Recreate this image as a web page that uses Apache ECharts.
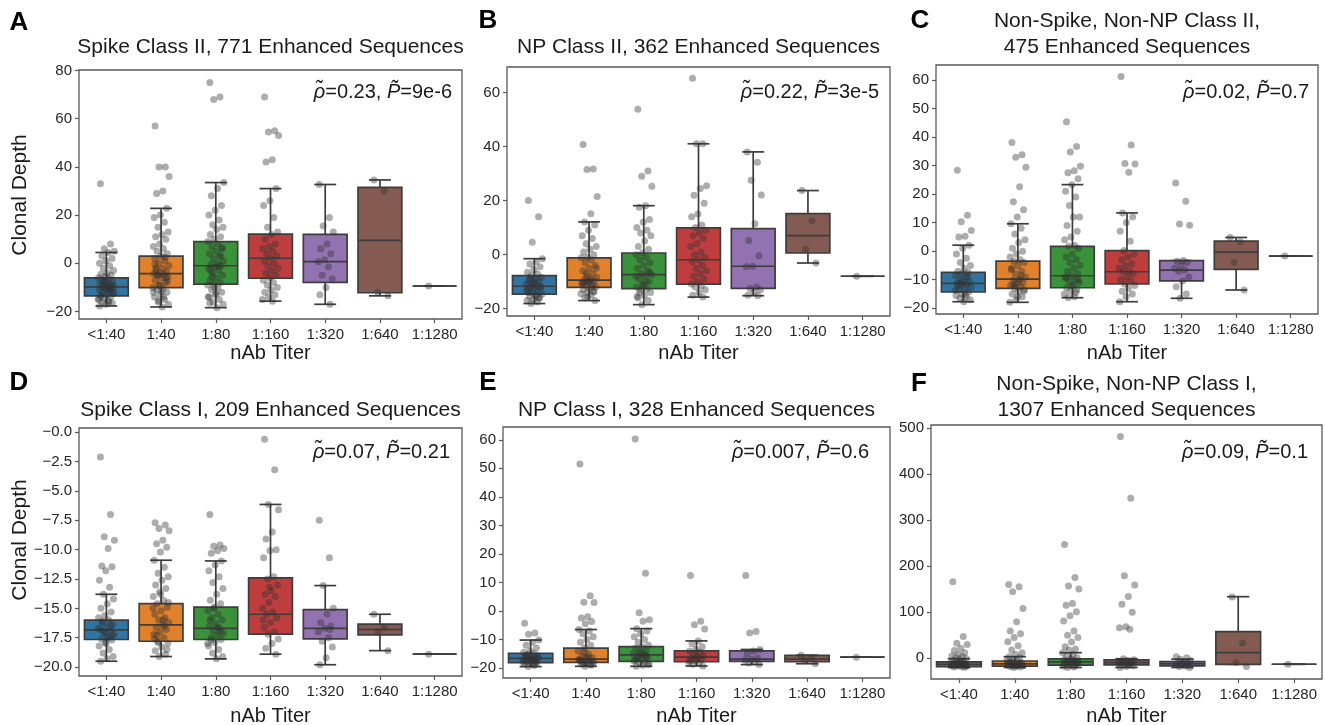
<!DOCTYPE html>
<html><head><meta charset="utf-8">
<script src="https://cdn.jsdelivr.net/npm/echarts@6/dist/echarts.min.js"></script>
<style>html,body{margin:0;padding:0;background:#fff}#c{width:1326px;height:725px}</style>
</head><body><div id="c"></div>
<script>
const categories = ['<1:40','1:40','1:80','1:160','1:320','1:640','1:1280'];
const titles = ['Spike Class II, 771 Enhanced Sequences','NP Class II, 362 Enhanced Sequences','Non-Spike, Non-NP Class II,\n475 Enhanced Sequences','Spike Class I, 209 Enhanced Sequences','NP Class I, 328 Enhanced Sequences','Non-Spike, Non-NP Class I,\n1307 Enhanced Sequences'];
const letters = ['A','B','C','D','E','F'];
const rhoVals = ['0.23','0.22','0.02','0.07','0.007','0.09'];
const pVals = ['9e-6','3e-5','0.7','0.21','0.6','0.1'];

// box stats: [lowWhisker, Q1, median, Q3, highWhisker]
const boxA = [[-17.7,-13.5,-9.8,-6.0,4.5],[-18.1,-10.1,-4.3,3.0,22.8],[-18.4,-8.6,-1.0,9.0,33.5],[-15.7,-6.2,2.1,12.1,31.0],[-17.0,-7.9,0.7,12.0,32.7],[-13.5,-12.2,9.5,31.5,34.6],[-9.4,-9.4,-9.4,-9.4,-9.4]];
const boxB = [[-18.1,-14.6,-11.7,-7.8,-1.5],[-17.0,-12.1,-9.4,-1.2,12.1],[-18.5,-12.6,-7.4,0.6,18.1],[-15.7,-10.9,-1.9,9.9,41.0],[-15.2,-12.5,-4.3,9.6,38.0],[-3.1,0.6,7.0,15.2,23.7],[-8.0,-8.0,-8.0,-8.0,-8.0]];
const boxC = [[-17.7,-14.3,-11.3,-7.4,2.1],[-17.9,-13.0,-9.8,-3.5,9.6],[-16.3,-12.8,-8.6,1.7,23.3],[-17.7,-11.5,-7.2,0.2,13.4],[-16.5,-10.4,-6.6,-3.3,-3.3],[-13.6,-6.4,-0.35,3.5,4.8],[-1.7,-1.7,-1.7,-1.7,-1.7]];
const boxD = [[-19.5,-17.65,-16.83,-16.0,-13.8],[-19.1,-17.8,-16.4,-14.6,-10.9],[-19.3,-17.65,-16.7,-14.9,-10.96],[-18.9,-17.2,-15.5,-12.4,-6.15],[-19.8,-17.6,-16.7,-15.1,-13.06],[-18.6,-17.25,-16.8,-16.35,-15.5],[-18.9,-18.9,-18.9,-18.9,-18.9]];
const boxE = [[-19.5,-18.1,-16.6,-14.9,-10.2],[-19.4,-18.0,-16.9,-13.0,-6.5],[-19.4,-17.7,-15.4,-12.5,-6.2],[-19.3,-17.8,-16.2,-14.0,-10.5],[-18.8,-17.7,-16.9,-14.0,-13.5],[-18.5,-17.8,-16.9,-15.6,-15.5],[-16.2,-16.2,-16.2,-16.2,-16.2]];
const boxF = [[-20,-18,-13,-8,-1],[-20,-17,-12,-6,3.5],[-20,-15,-8,-1.5,12],[-20,-14.5,-9.5,-3.7,-1],[-20,-16.7,-12.4,-7.3,-2],[-13.1,-13.1,12.2,57.8,133.6],[-13,-13,-13,-13,-13]];

// individual points per category
const ptsA = [
 [33,8,6,5,4.5,3,2,1,0,-1,-2,-3,-4,-4.5,-5,-5.5,-6,-6.5,-7,-7.5,-8,-8.5,-9,-9.3,-9.6,-9.8,-10,-10.3,-10.6,-11,-11.5,-12,-12.5,-13,-13.5,-14,-14.5,-15,-15.5,-16,-16.5,-17,-17.7,-11,-8,-12,-10.8,-13.2,-9.1,-7.2,-14.8,-16.2],
 [57,40,40,36,30,29,22.8,20,19,17,15,13,12,11,10,8,7,6,5,4,3,2,1,0,-1,-2,-3,-3.5,-4,-4.3,-4.6,-5,-5.5,-6,-7,-8,-9,-10,-10.5,-11,-12,-13,-14,-15,-16,-17,-18.1,-2,-6,-9,-12,-14,-4.8,-7.5,-11.5,-0.5,2.5,-15.5],
 [75,69,68,33.5,31,28,24,22,20,18,16,15,14,12,11,10,9,8,7,6,5,4,3,2,1,0,-0.5,-1,-1.5,-2,-3,-4,-5,-6,-7,-8,-8.6,-9,-10,-11,-12,-13,-14,-15,-16,-17,-18.4,-3,3,-10,-14,-1.2,-5.5,6.5,-12.5,-16.5],
 [69,55,54.5,53,43,42,31,26,24,19,15,13,12,10,8,7,6,5,4,3,2.1,1,0,-1,-2,-3,-4,-5,-6,-7,-8,-9,-10,-11,-12,-13,-14,-15,-15.7],
 [32.7,19,15.5,13,8,6,4,1.5,0.7,-1.5,-5,-6.5,-10,-13,-17],
 [34.6,30,-12,-13.5],
 [-9.4]
];
const ptsB = [
 [20,14,4.6,-1.5,-2.5,-3.5,-4.5,-5.5,-6.5,-7.2,-7.8,-8.5,-9,-9.5,-10,-10.5,-11,-11.5,-11.7,-12,-12.5,-13,-13.5,-14,-14.6,-15,-15.5,-16,-16.5,-17,-17.5,-18.1,-12,-10,-14,-16,-11.2,-13.2,-15.2,-8.8],
 [40.7,31.7,31.5,21.5,15.1,12.1,11,9,7,6,4,3,2,1,0,-1,-1.2,-2,-3,-4,-5,-6,-7,-8,-8.5,-9,-9.4,-9.8,-10,-10.5,-11,-11.5,-12,-12.5,-13,-13.5,-14,-14.5,-15,-16,-17,-10,-11,-12,-7,-5,-9.6,-10.2,-13.8,-15.5],
 [53.8,30.9,29,25.3,18.1,17.5,13,12,10,9,8,7,5,3,2,0.6,0,-1,-2,-3,-4,-5,-6,-7,-7.4,-8,-9,-10,-11,-12,-12.6,-13,-14,-15,-16,-17,-18.5,-8,-10,-14,-6.5,-11.5,-15.5],
 [65.2,41,41,25.5,24.5,22,19,15,14,11,10,9,8,7,6,4,3,1,0,-1,-1.9,-2.5,-4,-5,-6,-7,-8,-9,-10,-10.9,-11.5,-12,-13,-14,-15,-15.7],
 [38,34.2,27.5,22.1,11.4,5.2,-0.4,-4.3,-4.5,-12,-12.5,-13,-14,-15,-15.2],
 [23.7,12.5,2,-3.1],
 [-8.0]
];
const ptsC = [
 [28.3,12.6,10.3,7.2,5.2,5,2.1,1,-1,-2.5,-4,-5,-6,-7,-7.4,-8,-8.5,-9,-10,-10.5,-11,-11.3,-11.6,-12,-12.5,-13,-13.5,-14.3,-15,-15.5,-16,-16.5,-17,-17.7,-12,-9,-10.8,-13.8,-15.2],
 [38.1,33.8,32.9,29.4,22.6,17.3,14.5,12,9.6,8,6,4,3,1,0,-1,-2,-3,-3.5,-4,-5,-6,-7,-8,-9,-9.8,-10.2,-11,-11.5,-12,-12.5,-13,-13.5,-14,-15,-16,-17,-17.9,-10,-12,-14,-16,-6.5,-8.5,-11.2],
 [45.3,36.7,34.7,29.7,28.2,27.5,25.4,23.3,21,19,16,12,12,9,7,5,4,2,1.7,1,-1,-2,-3,-4,-5,-6,-7,-8,-8.6,-9,-10,-10.5,-11,-12,-12.8,-13.5,-14,-15,-16,-16.3,-10,-12,-9.5,-14.5],
 [61.2,37.2,30.7,30.5,27.6,13.4,12,10,7,3.5,0.2,-1,-2,-3,-4.5,-5,-6,-7,-7.2,-8,-9,-10,-10.5,-11.5,-12,-13,-14,-15,-16,-17.7],
 [23.9,17.5,9.5,9.1,-3.3,-3.5,-4,-5,-6,-6.6,-7,-9,-10.4,-12.5,-15,-16.5],
 [4.8,3.3,-4,-13.6],
 [-1.7]
];
const ptsD = [
 [-2.1,-7,-8.9,-9.2,-9.9,-11.4,-11.45,-11.8,-12.6,-13.2,-13.8,-14.2,-14.6,-15,-15.3,-15.6,-15.8,-16,-16.2,-16.4,-16.6,-16.8,-16.9,-17,-17.2,-17.4,-17.6,-17.7,-17.9,-18.2,-18.5,-18.8,-19.1,-19.3,-19.5,-16.5,-17.1,-16.7,-17.5,-16.1,-17.3,-18],
 [-7.7,-7.9,-8.2,-8.4,-9.2,-9.5,-9.8,-10.2,-10.9,-11.5,-12,-12.3,-12.6,-13,-13.3,-13.6,-14,-14.3,-14.6,-14.9,-15.2,-15.5,-15.8,-16,-16.2,-16.4,-16.6,-16.8,-17,-17.2,-17.5,-17.8,-18,-18.3,-18.6,-18.9,-19.1,-15,-16,-17.3,-18.5,-13.8,-17.6,-16.5,-17.9,-14.5],
 [-7,-9.6,-9.7,-9.9,-10.1,-10.3,-10.96,-11.3,-11.8,-12.3,-12.8,-13.3,-13.8,-14.3,-14.6,-14.9,-15.2,-15.5,-15.8,-16,-16.3,-16.5,-16.7,-16.9,-17.1,-17.3,-17.5,-17.65,-17.9,-18.2,-18.5,-18.8,-19.1,-19.3,-16,-17,-15,-18,-16.6,-17.7],
 [-0.6,-3.2,-6.15,-6.6,-8.5,-9.1,-10,-10.1,-10.7,-12.3,-12.5,-13,-13.5,-13.8,-14,-14.5,-15,-15.3,-15.5,-15.8,-16.2,-16.6,-17,-17.2,-17.6,-18,-18.4,-18.9,-13.2,-16],
 [-7.5,-10.7,-13.06,-15,-15.5,-16.2,-16.5,-16.7,-17,-17.5,-17.8,-18.3,-19.2,-19.8,-16.8],
 [-15.5,-16.6,-17.0,-18.6],
 [-18.9]
];
const ptsE = [
 [-4.3,-7.7,-8.2,-10.2,-11,-12,-13,-14,-14.5,-14.9,-15.3,-15.7,-16,-16.3,-16.6,-16.9,-17.2,-17.5,-17.8,-18.1,-18.4,-18.7,-19,-19.5,-16.5,-17,-15.5,-18,-16.8,-17.8,-18.9,-15.9],
 [51.5,5.3,3.1,3,-2,-2.5,-3.7,-4.5,-6.5,-7,-8,-9,-10,-11,-12,-13,-14,-15,-15.8,-16.3,-16.9,-17.2,-17.5,-17.8,-18,-18.3,-18.6,-19,-19.4,-17,-16.5,-18.2,-17.7,-16.1,-17.4,-18.8,-14.5],
 [60.3,13.2,-0.6,-3.1,-3.6,-6.2,-7,-8,-9,-10,-11,-12,-12.5,-13,-14,-14.5,-15,-15.4,-15.8,-16.3,-16.8,-17.2,-17.7,-18,-18.5,-19,-19.4,-16,-14.8,-17.5,-15.2,-16.6,-18.8],
 [12.4,-3.6,-4.8,-6.3,-10.5,-11.5,-12.5,-13.5,-14,-14.5,-15.2,-15.8,-16.2,-16.6,-17,-17.4,-17.8,-18.2,-18.7,-19.3,-16,-17.5],
 [12.4,-7.2,-7.7,-13.5,-14,-15,-16.5,-16.9,-17.2,-17.7,-18.2,-18.8],
 [-15.5,-16.5,-17.3,-18.5],
 [-16.2]
];
const ptsF = [
 [166,47,32.5,30,21.7,16.6,12,8,5,3,1,-1,-3,-5,-7,-8,-9,-10,-11,-12,-13,-14,-15,-16,-17,-18,-19,-20,-12,-15,-10.5,-13.5,-16.5],
 [160,155,144,108,79,59,53,45,36,27,18,12,8,3.5,1,-2,-4,-6,-8,-10,-12,-13,-14,-15,-16,-17,-18,-19,-20,-11,-14,-9,-12.5,-16.5],
 [247,175,157,150,119,115,101,92,81,59,50,45,35,25,20,18,12,8,4,1,-1.5,-3,-5,-7,-8,-9,-11,-13,-15,-17,-19,-20,-10,-6,-12,-16],
 [481,347,179,159,134,117,100,68.5,66,63,-1,-3,-5,-7,-9,-9.5,-11,-13,-14.5,-16,-18,-20,-12],
 [3.5,1,-2,-5,-7.3,-9,-11,-12.4,-14,-16.7,-18,-20],
 [133,33,-9,-18],
 [-13]
];

// y tick values and labels
const yTicksA = [-20,0,20,40,60,80];
const yLabelsA = ['\u221220','0','20','40','60','80'];
const yTicksB = [-20,0,20,40,60];
const yLabelsB = ['\u221220','0','20','40','60'];
const yTicksC = [-20,-10,0,10,20,30,40,50,60];
const yLabelsC = ['\u221220','\u221210','0','10','20','30','40','50','60'];
const yTicksD = [-20,-17.5,-15,-12.5,-10,-7.5,-5,-2.5,0];
const yLabelsD = ['\u221220.0','\u221217.5','\u221215.0','\u221212.5','\u221210.0','\u22127.5','\u22125.0','\u22122.5','\u22120.0'];
const yTicksE = [-20,-10,0,10,20,30,40,50,60];
const yLabelsE = ['\u221220','\u221210','0','10','20','30','40','50','60'];
const yTicksF = [0,100,200,300,400,500];
const yLabelsF = ['0','100','200','300','400','500'];

const boxes = [boxA,boxB,boxC,boxD,boxE,boxF];
const points = [ptsA,ptsB,ptsC,ptsD,ptsE,ptsF];
const yTicks = [yTicksA,yTicksB,yTicksC,yTicksD,yTicksE,yTicksF];
const yLabels = [yLabelsA,yLabelsB,yLabelsC,yLabelsD,yLabelsE,yLabelsF];

// layout (positions only)
const layout = [
 {left:79, top:70, width:383, height:249, min:-23.1, max:80.2, tx:270.5, ty:47, ax:452, ay:92, lx:19, ly:23, yname:195},
 {left:507, top:67, width:383, height:249, min:-22.7, max:69.4, tx:698.5, ty:47.5, ax:879, ay:92, lx:488, ly:21},
 {left:936, top:65, width:382, height:249, min:-22.0, max:65.2, tx:1127, ty:34.7, ax:1309, ay:92, lx:920, ly:21},
 {left:79, top:428, width:383, height:248, min:-20.76, max:0.36, tx:270.5, ty:410, ax:450, ay:452, lx:19, ly:383, yname:540},
 {left:503, top:427, width:387, height:251, min:-23.5, max:64.5, tx:696.5, ty:410, ax:869, ay:452, lx:488, ly:383},
 {left:931, top:425, width:391, height:254, min:-45, max:506, tx:1126.5, ty:397.5, ax:1308, ay:452, lx:919, ly:384}
];
const xNameY = [353,353,353,716,716,716];

const boxColors = ['#3274a1','#e1812c','#3a923a','#c03d3e','#9372b2','#845b53','#d684bd'];
const lineColor = '#3d3d3d';
const frameColor = '#5a5a5a';
const FONT = '"Liberation Sans", Arial, Helvetica, sans-serif';
const catIdx = [0,1,2,3,4,5,6];

function jit(k){ return (((k * 0.6180339887 + 0.137) % 1) - 0.5) * 0.3; }

function renderBox(params, api){
  const i = api.value(0);
  const p = [1,2,3,4,5].map(d => api.coord([i, api.value(d)]));
  const cx = p[0][0];
  const band = api.size([1,0])[0];
  const bw = band*0.8, cw = bw*0.5;
  const yLo=p[0][1], yQ1=p[1][1], yMd=p[2][1], yQ3=p[3][1], yHi=p[4][1];
  const ls = {stroke: lineColor, lineWidth: 1.7};
  return {type:'group', children:[
    {type:'line', shape:{x1:cx,y1:yQ1,x2:cx,y2:yLo}, style:ls},
    {type:'line', shape:{x1:cx,y1:yQ3,x2:cx,y2:yHi}, style:ls},
    {type:'line', shape:{x1:cx-cw/2,y1:yLo,x2:cx+cw/2,y2:yLo}, style:ls},
    {type:'line', shape:{x1:cx-cw/2,y1:yHi,x2:cx+cw/2,y2:yHi}, style:ls},
    {type:'rect', shape:{x:cx-bw/2,y:yQ3,width:bw,height:Math.max(0,yQ1-yQ3)}, style:{fill: boxColors[i], stroke: lineColor, lineWidth:1.7}},
    {type:'line', shape:{x1:cx-bw/2,y1:yMd,x2:cx+bw/2,y2:yMd}, style:ls}
  ]};
}

const grids = [], xAxes = [], yAxes = [], series = [], graphics = [];
layout.forEach((L, g) => {
  grids.push({left:L.left, top:L.top, width:L.width, height:L.height, show:true, borderColor:frameColor, borderWidth:1.3, backgroundColor:'transparent'});
  xAxes.push({gridIndex:g, type:'value', min:-0.5, max:6.5, position:'bottom',
    axisLine:{show:false, onZero:false}, splitLine:{show:false},
    axisTick:{show:true, length:4, customValues:catIdx, lineStyle:{color:frameColor, width:1.2}},
    axisLabel:{customValues:catIdx, formatter:v => categories[Math.round(v)], fontFamily:FONT, fontSize:15, color:'#262626', margin:8}
  });
  const tk = yTicks[g], lb = yLabels[g];
  yAxes.push({gridIndex:g, type:'value', min:L.min, max:L.max, position:'left',
    axisLine:{show:false, onZero:false}, splitLine:{show:false},
    axisTick:{show:true, length:4, customValues:tk, lineStyle:{color:frameColor, width:1.2}},
    axisLabel:{customValues:tk, formatter:v => { const j = tk.findIndex(t => Math.abs(t-v) < 1e-6); return j >= 0 ? lb[j] : ''; }, fontFamily:FONT, fontSize:15, color:'#262626', margin:7}
  });
  series.push({type:'custom', xAxisIndex:g, yAxisIndex:g, z:2, renderItem:renderBox,
    encode:{x:0, y:[1,2,3,4,5]},
    data: boxes[g].map((b, i) => [i, b[0], b[1], b[2], b[3], b[4]])
  });
  const sd = [];
  points[g].forEach((arr, i) => arr.forEach((v, k) => sd.push([i + jit(k), v])));
  series.push({type:'scatter', xAxisIndex:g, yAxisIndex:g, z:3, symbolSize:7,
    itemStyle:{color:'rgba(50,50,50,0.5)', borderWidth:0}, data: sd});

  graphics.push({type:'text', x:L.tx, y:L.ty, style:{text:titles[g], font:'21px ' + FONT, fill:'#1a1a1a', textAlign:'center', textVerticalAlign:'middle', lineHeight:26}});
  graphics.push({type:'text', x:L.lx, y:L.ly, style:{text:letters[g], font:'bold 26px ' + FONT, fill:'#000', textAlign:'center', textVerticalAlign:'middle'}});
  graphics.push({type:'text', x:L.ax, y:L.ay, style:{
    text:'{i|\u03C1\u0303}=' + rhoVals[g] + ', {i|P\u0303}=' + pVals[g],
    font:'20px ' + FONT, fill:'#1a1a1a', textAlign:'right', textVerticalAlign:'middle',
    rich:{i:{fontStyle:'italic', fontSize:20, fontFamily:FONT, fill:'#1a1a1a'}}}});
  graphics.push({type:'text', x:L.left + L.width/2, y:xNameY[g], style:{text:'nAb Titer', font:'20px ' + FONT, fill:'#1a1a1a', textAlign:'center', textVerticalAlign:'middle'}});
  if (L.yname) {
    graphics.push({type:'text', x:20, y:L.yname, rotation:Math.PI/2, style:{text:'Clonal Depth', font:'21px ' + FONT, fill:'#1a1a1a', textAlign:'center', textVerticalAlign:'middle'}});
  }
});

const chart = echarts.init(document.getElementById('c'), null, {renderer:'canvas'});
chart.setOption({animation:false, backgroundColor:'#fff', grid:grids, xAxis:xAxes, yAxis:yAxes, series:series, graphic:graphics});
</script></body></html>
